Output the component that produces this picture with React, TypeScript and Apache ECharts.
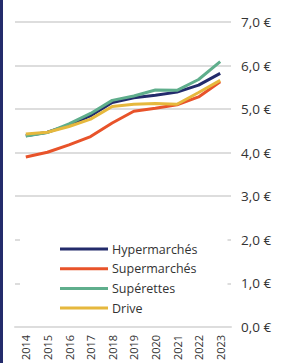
import React, { useEffect, useRef } from "react";
import * as echarts from "echarts";

const years = ["2014", "2015", "2016", "2017", "2018", "2019", "2020", "2021", "2022", "2023"];
const hyper = [4.39, 4.47, 4.63, 4.85, 5.15, 5.26, 5.32, 5.39, 5.55, 5.82];
const superm = [3.9, 4.01, 4.18, 4.37, 4.68, 4.95, 5.02, 5.1, 5.28, 5.63];
const superettes = [4.38, 4.46, 4.66, 4.9, 5.2, 5.3, 5.44, 5.43, 5.68, 6.09];
const drive = [4.43, 4.47, 4.6, 4.77, 5.06, 5.11, 5.13, 5.11, 5.38, 5.66];
const seriesNames = ["Hypermarchés", "Supermarchés", "Supérettes", "Drive"];
const colors = ["#232b6b", "#e8532a", "#5fae8c", "#e6b83d"];

const FONT = "Open Sans";

export default function App() {
  const ref = useRef<HTMLDivElement>(null);
  useEffect(() => {
    document.body.style.margin = "0";
    const chart = echarts.init(ref.current!, null, { renderer: "svg" });
    const data = [hyper, superm, superettes, drive];
    chart.setOption({
      animation: false,
      textStyle: { fontFamily: FONT },
      grid: { left: 15, right: 54, top: 22, bottom: 35 },
      legend: {
        orient: "vertical",
        left: 20,
        top: 234,
        padding: [8, 30, 8, 40],
        backgroundColor: "#ffffff",
        icon: "rect",
        itemWidth: 48,
        itemHeight: 3,
        itemGap: 5.7,
        data: seriesNames,
        textStyle: { fontFamily: FONT, fontSize: 12.5, lineHeight: 14, color: "#333", padding: [0, 0, 0, -1] },
      },
      xAxis: {
        type: "category",
        data: years,
        boundaryGap: true,
        axisLine: { lineStyle: { color: "#dddddd", width: 2 } },
        axisTick: { show: false },
        axisLabel: { rotate: 90, fontSize: 11, color: "#333", margin: 8, fontFamily: FONT },
      },
      yAxis: {
        type: "value",
        position: "right",
        min: 0,
        max: 7,
        interval: 1,
        axisLine: { show: false },
        axisTick: { show: false },
        splitLine: { lineStyle: { color: "#dddddd", width: 2 } },
        axisLabel: {
          fontSize: 13.5,
          color: "#333",
          margin: 10,
          fontFamily: FONT,
          formatter: (v: number) => v.toFixed(1).replace(".", ",") + " €",
        },
      },
      series: seriesNames.map((name, i) => ({
        name,
        type: "line",
        data: data[i],
        symbol: "none",
        lineStyle: { width: 3, color: colors[i] },
        itemStyle: { color: colors[i] },
      })),
    });
    return () => chart.dispose();
  }, []);
  return (
    <div style={{ position: "relative", width: 285, height: 363 }}>
      <div style={{ position: "absolute", left: 0, top: 0, width: 3, height: 363, background: "#232b6b" }} />
      <div ref={ref} style={{ position: "absolute", left: 0, top: 0, width: 285, height: 363 }} />
    </div>
  );
}
